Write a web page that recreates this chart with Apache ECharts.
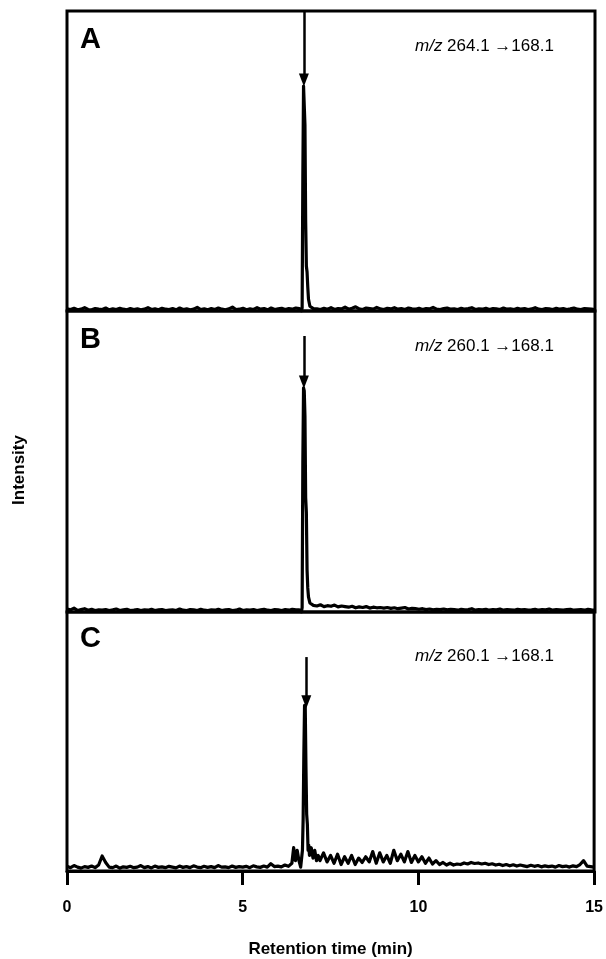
<!DOCTYPE html>
<html>
<head>
<meta charset="utf-8">
<script src="https://cdn.jsdelivr.net/npm/echarts@6/dist/echarts.min.js"></script>
<style>
html,body{margin:0;padding:0;background:#fff;}
#chart{width:606px;height:959px;}
</style>
</head>
<body>
<div id="chart"></div>
<script>
// ---- data ----
var panelLetters = ['A', 'B', 'C'];
var transitions = ['264.1 \u2192168.1', '260.1 \u2192168.1', '260.1 \u2192168.1'];
var xTicks = [0, 5, 10, 15];
var baseStep = 0.1; // baseline sampled every 0.1 min, index i -> i*0.1 min

var baseA = [
0.7,0.5,0.9,0.4,0.6,1.1,0.5,0.4,0.8,0.6,
0.5,1.0,0.4,0.7,0.5,0.9,0.6,0.4,0.8,0.5,
0.7,0.4,0.6,1.1,0.5,0.7,0.4,0.9,0.6,0.5,
0.8,0.4,1.0,0.5,0.7,0.4,0.6,1.2,0.5,0.7,
0.4,0.8,0.5,1.0,0.6,0.4,0.7,1.3,0.5,0.6,
0.9,0.4,0.7,0.5,1.1,0.6,0.8,0.4,1.0,0.5,
0.7,0.9,0.5,0.8,0.6,1.0,0.7,0.7,0.7,0.7,
0.8,0.7,0.5,0.9,0.6,1.1,0.5,0.8,0.7,1.3,
0.6,0.9,1.4,0.7,0.5,1.0,0.8,0.6,1.2,0.7,
0.5,0.9,0.7,1.1,0.6,0.8,0.5,1.0,0.7,0.6,
0.9,0.5,0.8,0.7,1.2,0.6,0.5,0.8,1.0,0.6,
0.7,0.5,0.9,0.6,0.8,1.1,0.5,0.7,0.6,0.9,
0.5,0.8,0.7,0.5,1.0,0.6,0.7,0.5,0.9,0.6,
0.8,0.5,0.7,1.1,0.6,0.5,0.8,0.7,0.5,0.9,
0.6,0.8,0.5,0.7,1.0,0.6,0.5,0.8,0.7,0.6,0.5];

var baseB = [
1.0,0.7,1.3,0.5,0.8,1.1,0.6,0.9,0.5,0.7,
0.6,0.8,0.5,0.7,1.0,0.5,0.7,0.9,0.5,0.6,
0.8,0.5,0.7,0.6,0.9,0.5,0.7,0.8,0.5,0.6,
0.7,0.5,1.0,0.6,0.5,0.8,0.7,0.5,0.9,0.6,
0.5,0.7,0.6,0.9,0.5,0.7,0.8,0.5,0.6,1.0,
0.5,0.7,0.6,0.8,0.5,0.7,0.9,0.6,0.5,0.8,
0.7,0.5,0.8,0.6,0.9,0.7,0.7,0.7,0.7,0.7,
2.2,2.0,2.4,1.8,2.1,1.9,2.3,1.7,2.0,1.8,
1.6,1.9,1.4,1.7,1.5,1.8,1.3,1.6,1.4,1.5,
1.3,1.5,1.2,1.4,1.1,1.3,1.5,1.0,1.2,1.1,
0.9,1.1,0.8,1.0,0.7,0.9,0.8,1.0,0.7,0.9,
0.8,0.6,0.9,0.7,0.8,1.1,0.6,0.8,0.7,0.9,
0.6,0.8,0.7,1.0,0.6,0.8,0.7,0.6,0.9,0.7,
0.8,0.6,0.7,0.9,0.6,0.8,0.7,1.0,0.6,0.8,
0.7,0.6,0.8,0.9,0.6,0.7,0.8,0.6,0.9,0.7,0.6];

var baseC = [
1.8,1.3,2.1,1.5,1.1,1.7,1.4,1.9,1.3,2.3,
5.8,3.3,1.5,1.3,1.9,1.1,1.6,1.4,1.8,1.3,
1.5,2.1,1.3,1.7,1.2,1.9,1.4,1.6,1.3,1.8,
1.5,1.2,1.9,1.4,1.7,1.3,2.0,1.5,1.3,1.8,
1.4,1.7,1.3,2.1,1.5,1.6,1.3,1.9,1.4,1.7,
1.5,1.8,1.3,2.0,1.6,1.4,1.9,1.5,2.8,1.7,
1.9,1.6,2.3,1.8,3.0,3.0,3.0,3.0,3.0,3.0,
3.0,3.0,3.0,7.0,3.5,6.0,3.0,6.5,2.5,5.5,
3.0,6.0,2.5,5.0,3.3,5.5,3.5,7.5,3.0,7.0,
3.5,6.0,3.0,8.0,4.0,6.5,3.5,7.5,3.3,6.0,
3.5,5.5,3.0,5.0,2.7,4.0,2.5,3.3,2.3,3.0,
2.3,2.7,2.5,3.1,2.7,3.3,2.9,3.1,2.7,3.0,
2.5,2.8,2.3,2.6,2.1,2.5,2.0,2.4,1.9,2.3,
2.0,1.7,2.2,1.8,2.1,1.6,2.0,1.7,1.9,1.5,
2.1,1.7,1.9,1.5,2.0,1.7,2.5,4.0,1.9,1.7,1.5];

// fine sampling around the main peak (min, intensity)
var peakTimesA = [6.60,6.64,6.66,6.68,6.70,6.72,6.74,6.76,6.78,6.80,6.82,6.84,6.86,6.90,6.95,7.00];
var peakValsA  = [0.8, 0.6, 0.0, 1.0, 45,  75,  75,  62,  30,  15,  13,  8,   4,   1.6, 1.1, 0.8];
var peakTimesB = [6.60,6.64,6.66,6.68,6.70,6.72,6.74,6.76,6.78,6.80,6.82,6.84,6.86,6.90,6.95,7.00];
var peakValsB  = [0.7, 0.8, 0.0, 1.5, 50,  74.5,73.5,65,  38,  33,  14,  8,   5,   3.0, 2.5, 2.2];
var peakTimesC = [6.40,6.45,6.50,6.55,6.60,6.65,6.70,6.72,6.74,6.76,6.78,6.80,6.82,6.84,6.86,6.88,6.90,6.95,7.00,7.05,7.10,7.15,7.20];
var peakValsC  = [3,   9,   4,   8,   4,   1.5, 8,   20,  45,  64,  63,  40,  22,  18,  8,   10,  6,   9,   5,   8,   4,   6,   4];

// arrows: [time, top, tip]
var arrowA = [6.73, 100, 77];
var arrowB = [6.73, 91.7, 76.4];
var arrowC = [6.81, 82.6, 65.3];

// ---- build ----
function merge(base, pt, pv) {
  var lo = pt[0], hi = pt[pt.length - 1];
  var out = [];
  var inserted = false;
  for (var i = 0; i < base.length; i++) {
    var t = Math.round(i * baseStep * 100) / 100;
    if (t >= lo && t <= hi) {
      if (!inserted) {
        for (var j = 0; j < pt.length; j++) out.push([pt[j], pv[j]]);
        inserted = true;
      }
      continue;
    }
    out.push([t, base[i]]);
  }
  return out;
}

var seriesData = [
  merge(baseA, peakTimesA, peakValsA),
  merge(baseB, peakTimesB, peakValsB),
  merge(baseC, peakTimesC, peakValsC)
];
var arrows = [arrowA, arrowB, arrowC];

var FONT = '"Liberation Sans", Arial, Helvetica, sans-serif';
var grids = [
  {left: 67, right: 11, top: 11, height: 300},
  {left: 67, right: 11, top: 311, height: 301},
  {left: 67, right: 11, top: 612, height: 259}
];
// text offsets from each panel's top edge (layout, px)
var letterOffset = [14, 14, 12];
var mzOffset = [27, 27, 36];
grids.forEach(function (g) {
  g.show = true; g.borderColor = '#000'; g.borderWidth = 3; g.backgroundColor = 'transparent';
});

var xAxes = [], yAxes = [], series = [], titles = [];
for (var k = 0; k < 3; k++) {
  var last = k === 2;
  xAxes.push({
    type: 'value', gridIndex: k, min: 0, max: 15, interval: 5,
    axisLine: {show: last, onZero: false, lineStyle: {color: '#000', width: 3}},
    axisTick: {show: last, inside: false, length: 14, lineStyle: {color: '#000', width: 3}},
    axisLabel: {show: last, color: '#000', fontFamily: FONT, fontWeight: 'bold', fontSize: 16, margin: 29,
      formatter: function (v) { return xTicks.indexOf(v) >= 0 ? String(v) : ''; }},
    splitLine: {show: false},
    name: last ? 'Retention time (min)' : '',
    nameLocation: 'middle', nameGap: 70,
    nameTextStyle: {color: '#000', fontFamily: FONT, fontWeight: 'bold', fontSize: 17}
  });
  yAxes.push({
    type: 'value', gridIndex: k, min: 0, max: 100, show: false
  });
  var a = arrows[k];
  series.push({
    type: 'line', xAxisIndex: k, yAxisIndex: k, data: seriesData[k],
    showSymbol: false, symbol: 'none', silent: true, animation: false,
    lineStyle: {color: '#000', width: 3.2, join: 'round'},
    markLine: {
      silent: true, animation: false, symbol: ['none', 'triangle'], symbolSize: [10, 13],
      label: {show: false},
      lineStyle: {color: '#000', width: 2.5, type: 'solid'},
      data: [[{coord: [a[0], a[1]]}, {coord: [a[0], a[2]]}]]
    }
  });
  titles.push({
    text: panelLetters[k], left: 80, top: grids[k].top + letterOffset[k], padding: 0,
    textStyle: {color: '#000', fontFamily: FONT, fontWeight: 'bold', fontSize: 29}
  });
  titles.push({
    text: '{i|m/z} {n|' + transitions[k] + '}', left: 415, top: grids[k].top + mzOffset[k], padding: 0,
    textStyle: {color: '#000', fontFamily: FONT, fontSize: 17, fontWeight: 'normal',
      rich: {
        i: {fontStyle: 'italic', fontWeight: 'normal', fontFamily: FONT, fontSize: 17, color: '#000'},
        n: {fontStyle: 'normal', fontWeight: 'normal', fontFamily: FONT, fontSize: 17, color: '#000'}
      }}
  });
}

var chart = echarts.init(document.getElementById('chart'), null, {renderer: 'canvas'});
chart.setOption({
  animation: false,
  backgroundColor: '#fff',
  grid: grids,
  xAxis: xAxes,
  yAxis: yAxes,
  title: titles,
  series: series,
  graphic: [{
    type: 'text', x: 19, y: 470, rotation: Math.PI / 2,
    style: {text: 'Intensity', fill: '#000', font: 'bold 17px ' + FONT, textAlign: 'center', textVerticalAlign: 'middle'}
  }]
});
</script>
</body>
</html>
